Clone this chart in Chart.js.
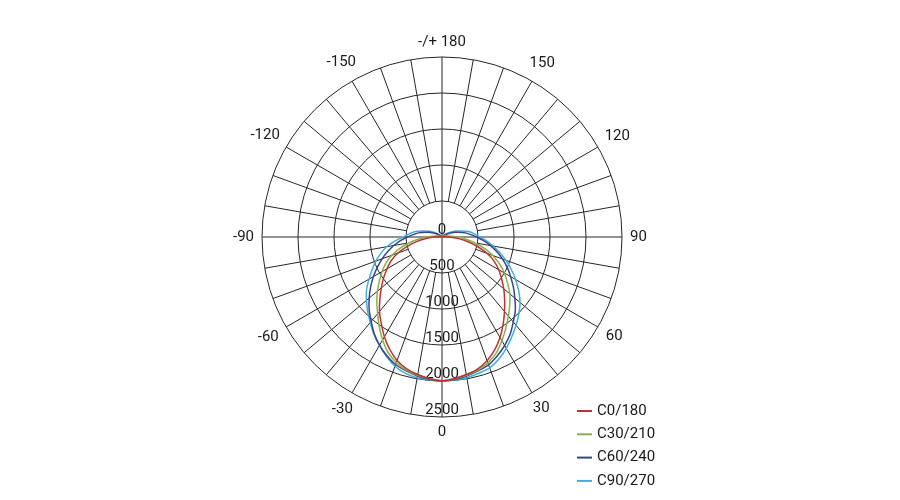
<!DOCTYPE html>
<html>
<head>
<meta charset="utf-8">
<script src="https://cdn.jsdelivr.net/npm/chart.js@4"></script>
<style>
  body { margin: 0; background: #fff; }
</style>
</head>
<body>
<canvas id="polarChart" width="900" height="500"></canvas>
<script>
// gamma angles (deg), 0 = straight down, + to the right
const gammaAngles = [-140, -130, -120, -110, -100, -90, -85, -80, -75, -70, -65, -60, -55, -50, -45, -40, -35, -30, -25, -20, -15, -10, -5,
    0, 5, 10, 15, 20, 25, 30, 35, 40, 45, 50, 55, 60, 65, 70, 75, 80, 85, 90, 100, 110, 120, 130, 140];

// luminous intensity per C-plane (cd)
const c0_180 = [0, 0, 0, 0, 20, 100, 210, 350, 500, 650, 780, 880, 990, 1100, 1220, 1350, 1470, 1600, 1720, 1825, 1895, 1940, 1975,
    1995, 1975, 1940, 1900, 1830, 1730, 1610, 1480, 1350, 1230, 1120, 1010, 910, 800, 670, 510, 360, 220, 100, 20, 0, 0, 0, 0];
const c30_210 = [0, 0, 0, 30, 90, 220, 320, 460, 600, 740, 860, 960, 1060, 1170, 1280, 1390, 1520, 1650, 1770, 1855, 1915, 1950, 1975,
    1995, 1975, 1950, 1915, 1860, 1780, 1665, 1545, 1435, 1330, 1230, 1110, 1000, 880, 750, 610, 460, 320, 220, 90, 30, 0, 0, 0];
const c60_240 = [0, 30, 90, 190, 330, 480, 580, 680, 780, 885, 990, 1100, 1210, 1320, 1430, 1530, 1640, 1735, 1815, 1885, 1925, 1960, 1985,
    2000, 1985, 1960, 1925, 1890, 1820, 1740, 1650, 1540, 1440, 1320, 1210, 1100, 1000, 895, 790, 685, 580, 480, 330, 190, 90, 30, 0];
const c90_270 = [0, 50, 130, 240, 400, 540, 660, 780, 880, 980, 1070, 1170, 1280, 1370, 1460, 1550, 1650, 1740, 1830, 1910, 1960, 1985, 1995,
    2000, 1995, 1985, 1960, 1935, 1870, 1785, 1690, 1600, 1510, 1415, 1300, 1180, 1060, 945, 830, 720, 620, 520, 400, 240, 130, 50, 0];

const seriesNames = ["C0/180", "C30/210", "C60/240", "C90/270"];
const seriesColors = ["#bb3430", "#8cb04a", "#35468a", "#45acd8"];

// rings of the intensity scale
const ringValues = [0, 500, 1000, 1500, 2000, 2500];
const ringLabels = ["0", "500", "1000", "1500", "2000", "2500"];

// angle labels round the diagram
const angleTickValues = [0, 30, 60, 90, 120, 150, 180, -150, -120, -90, -60, -30];
const angleTickLabels = ["0", "30", "60", "90", "120", "150", "-/+ 180", "-150", "-120", "-90", "-60", "-30"];

const maxValue = 2500;
const FONT = "15px Roboto, 'Liberation Sans', sans-serif";

// polar -> cartesian (values stay in cd)
function toPoints(values) {
    return values.map((v, i) => {
        const g = gammaAngles[i] * Math.PI / 180;
        return { x: v * Math.sin(g), y: -v * Math.cos(g) };
    });
}

const polarGrid = {
    id: "polarGrid",
    beforeDatasetsDraw(chart) {
        const ctx = chart.ctx;
        const xs = chart.scales.x, ys = chart.scales.y;
        const cx = xs.getPixelForValue(0), cy = ys.getPixelForValue(0);
        const rad = (v) => xs.getPixelForValue(v) - cx;
        const rMax = rad(maxValue), rMin = rad(ringValues[1]);

        ctx.save();
        ctx.strokeStyle = "#262626";
        ctx.lineWidth = 1;

        // rings
        ringValues.slice(1).forEach((v) => {
            ctx.beginPath();
            ctx.arc(cx, cy, rad(v), 0, Math.PI * 2);
            ctx.stroke();
        });

        // spokes every 10 deg, from the first ring outwards
        for (let a = 0; a < 360; a += 10) {
            const t = a * Math.PI / 180;
            const s = Math.sin(t), c = Math.cos(t);
            const r0 = (a % 90 === 0) ? 0 : rMin;
            ctx.beginPath();
            ctx.moveTo(cx + r0 * s, cy + r0 * c);
            ctx.lineTo(cx + rMax * s, cy + rMax * c);
            ctx.stroke();
        }

        // labels
        ctx.fillStyle = "#1a1a1a";
        ctx.font = FONT;
        ctx.textAlign = "center";
        ctx.textBaseline = "middle";
        ringValues.forEach((v, i) => {
            ctx.fillText(ringLabels[i], cx, cy + rad(v) - 7);
        });
        // angle labels sit a small gap outside the circle
        angleTickValues.forEach((a, i) => {
            const t = a * Math.PI / 180;
            const s = Math.sin(t), c = Math.cos(t);
            const w = ctx.measureText(angleTickLabels[i]).width;
            const r = rMax + 8 + Math.abs(s) * w / 2 + Math.abs(c) * 7;
            ctx.fillText(angleTickLabels[i], cx + r * s, cy + r * c);
        });
        ctx.restore();
    },
    afterDraw(chart) {
        // legend at the lower right
        const ctx = chart.ctx;
        ctx.save();
        ctx.font = FONT;
        ctx.textAlign = "left";
        ctx.textBaseline = "middle";
        chart.data.datasets.forEach((ds, i) => {
            const y = 411 + i * 23.3;
            ctx.strokeStyle = ds.borderColor;
            ctx.lineWidth = 2;
            ctx.beginPath();
            ctx.moveTo(577, y);
            ctx.lineTo(592, y);
            ctx.stroke();
            ctx.fillStyle = "#1a1a1a";
            ctx.fillText(ds.label, 597, y);
        });
        ctx.restore();
    }
};

const allSeries = [c0_180, c30_210, c60_240, c90_270];

new Chart(document.getElementById("polarChart"), {
    type: "scatter",
    data: {
        datasets: allSeries.map((vals, i) => ({
            label: seriesNames[i],
            data: toPoints(vals),
            showLine: true,
            borderColor: seriesColors[i],
            borderWidth: 1.5,
            pointRadius: 0,
            tension: 0.3,
            fill: false,
        })),
    },
    options: {
        responsive: false,
        animation: false,
        layout: { padding: { left: 262, right: 278, top: 57, bottom: 83 } },
        scales: {
            x: { type: "linear", min: -maxValue, max: maxValue, display: false },
            y: { type: "linear", min: -maxValue, max: maxValue, display: false },
        },
        plugins: {
            legend: { display: false },
            tooltip: { enabled: false },
        },
    },
    plugins: [polarGrid],
});
</script>
</body>
</html>
